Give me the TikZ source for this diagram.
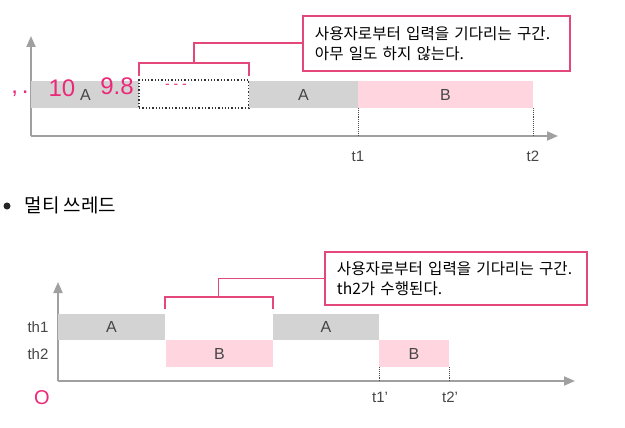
\documentclass[tikz,border=0pt]{standalone}
\usepackage{fontspec}
\setmainfont{Liberation Sans}
\newfontfamily\krfont{Noto Sans CJK KR}
\usetikzlibrary{arrows.meta}
\definecolor{bargray}{RGB}{211,211,211}
\definecolor{barpink}{RGB}{255,214,224}
\definecolor{linepink}{RGB}{228,72,122}
\definecolor{axisgray}{RGB}{160,160,160}
\definecolor{inkpink}{RGB}{236,40,120}
\definecolor{labelgray}{RGB}{70,70,70}

\begin{document}
\begin{tikzpicture}[x=1pt, y=-1pt,
    axis/.style={draw=axisgray, line width=2pt, -{Triangle[length=11pt,width=9pt]}},
    bar/.style={anchor=north west, inner sep=0pt, outer sep=0pt, minimum height=27pt,
                text=labelgray, font=\fontsize{16}{18}\selectfont},
    graybar/.style={bar, fill=bargray},
    pinkbar/.style={bar, fill=barpink},
    waitbox/.style={bar, draw=black!80, dotted, line width=1.3pt, fill=white},
    bracket/.style={draw=linepink, line width=1.8pt},
    note/.style={draw=linepink, line width=1.8pt, fill=white, anchor=north west, align=left,
                 inner xsep=12pt, inner ysep=0pt, minimum height=55pt,
                 font=\krfont\fontsize{15.6}{20}\selectfont},
    tick/.style={draw=black!70, densely dotted, line width=0.9pt},
    timelabel/.style={text=labelgray, font=\fontsize{15}{17}\selectfont},
    ink/.style={text=inkpink, font=\fontsize{24}{26}\selectfont}]

    \useasboundingbox[fill=white] (0,0) rectangle (625,428);

    % Single thread
    \coordinate (o1) at (31,136);
    \draw[axis] (o1) -- (31,36);
    \draw[axis] (o1) -- (558,136);

    \node[graybar, minimum width=109pt] (a1) at (31,81) {A};
    \node[waitbox, minimum width=110pt, minimum height=28pt] (w1) at (139,80) {};
    \node[graybar, minimum width=109pt] (a2) at (249,81) {A};
    \node[pinkbar, minimum width=175pt] (b1) at (358,81) {B};

    \draw[tick] (b1.south west) -- (b1.south west |- o1);
    \draw[tick] (b1.south east) -- (b1.south east |- o1);
    \node[timelabel] (t1) at (358,156) {t1};
    \node[timelabel] (t2) at (533,156) {t2};

    \node[note, text width=243pt] (note1) at (302,15) {
        사용자로부터 입력을 기다리는 구간. \\
        아무 일도 하지 않는다.
    };
    \draw[bracket] ([yshift=4pt]w1.north west) |- ([yshift=17pt]w1.north) -| ([yshift=4pt]w1.north east);
    \draw[bracket] ([yshift=17pt]w1.north) |- (note1.west);

    % Scribbles
    \node[ink] (ink1) at (20,94) {,\,.};
    \node[ink] (ink2) at (62,88) {10};
    \node[ink] (ink3) at (117,86) {9.8};
    \node[ink, font=\fontsize{14}{14}\selectfont] (ink4) at (176,86) {- - -};

    % Multi thread
    \node[circle, fill=black!85, inner sep=0pt, minimum size=7pt] (dot) at (7,206) {};
    \node[anchor=west, font=\krfont\fontsize{19}{20}\selectfont] (title) at (21,205) {멀티 쓰레드};

    \coordinate (o2) at (58,381);
    \draw[axis] (o2) -- (58,282);
    \draw[axis] (o2) -- (575,381);

    \node[graybar, minimum width=107pt, minimum height=26pt] (a3) at (58,314) {A};
    \node[graybar, minimum width=106pt, minimum height=26pt] (a4) at (273,314) {A};
    \node[pinkbar, minimum width=107pt] (b3) at (166,340) {B};
    \node[pinkbar, minimum width=70pt] (b4) at (379,340) {B};

    \node[timelabel] (th1) at (38,327) {th1};
    \node[timelabel] (th2) at (38,354) {th2};

    \draw[tick] (b4.south west) -- (b4.south west |- o2);
    \draw[tick] (b4.south east) -- (b4.south east |- o2);
    \node[timelabel] (t1p) at (380,397) {t1'};
    \node[timelabel] (t2p) at (450,397) {t2'};

    \node[note, text width=238pt, minimum height=53pt] (note2) at (324,251) {
        사용자로부터 입력을 기다리는 구간. \\
        th2가 수행된다.
    };
    \coordinate (gap2) at (218.5,297);
    \draw[bracket] ([yshift=5pt]a3.north east) |- (gap2) -| ([yshift=5pt]a4.north west);
    \draw[bracket] (gap2) |- (note2.west);

    \node[ink, font=\fontsize{20}{22}\selectfont] (ink5) at (42,398) {O};
\end{tikzpicture}
\end{document}
